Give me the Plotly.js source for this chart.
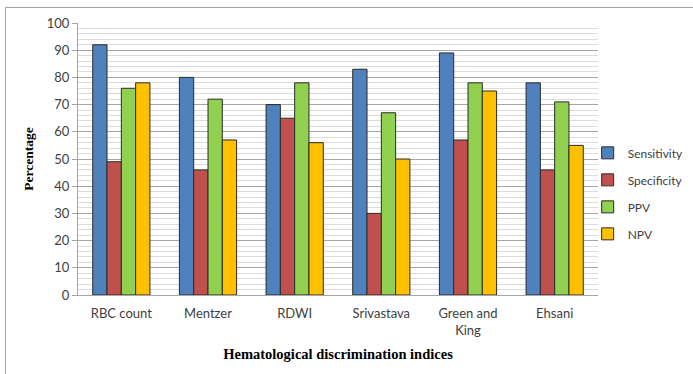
<!DOCTYPE html>
<html><head><meta charset="utf-8">
<script src="https://cdn.plot.ly/plotly-3.0.1.min.js"></script>
<style>
html,body{margin:0;padding:0;background:#fff;}
#wrap{position:relative;width:693px;height:374px;overflow:hidden;}
#chart{position:absolute;left:0;top:0;width:693px;height:374px;}
#frame{position:absolute;left:5px;top:7px;width:720px;height:400px;border-top:1px solid #a6a6a6;border-left:1px solid #a6a6a6;pointer-events:none;}
</style></head>
<body><div id="wrap"><div id="chart"></div><div id="frame"></div></div>
<script>
const categories = ["RBC count", "Mentzer", "RDWI", "Srivastava", "Green and<br>King", "Ehsani"];
const sensitivity = [92, 80, 70, 83, 89, 78];
const specificity = [49, 46, 65, 30, 57, 46];
const ppv = [76, 72, 78, 67, 78, 71];
const npv = [78, 57, 56, 50, 75, 55];
const seriesNames = ["Sensitivity", "Specificity", "PPV", "NPV"];
const yTicks = [0, 10, 20, 30, 40, 50, 60, 70, 80, 90, 100];

const colors = ["#4F81BD", "#C0504D", "#92D050", "#FFC000"];
const series = [sensitivity, specificity, ppv, npv];
const traces = series.map((vals, i) => ({
  type: "bar",
  name: seriesNames[i],
  legendgroup: "g" + i,
  x: categories,
  y: vals,
  marker: {color: colors[i], line: {color: "#2b2b2b", width: 1}},
  hoverinfo: "x+y+name"
}));

const tickFont = {family: "Lato, 'Open Sans', sans-serif", size: 13, color: "#404040"};
const layout = {
  width: 693, height: 374,
  margin: {l: 78, r: 95, t: 23, b: 79, autoexpand: false},
  paper_bgcolor: "rgba(0,0,0,0)",
  plot_bgcolor: "#fff",
  barmode: "group",
  bargap: 0.34,
  bargroupgap: 0,
  showlegend: true,
  legend: {
    xref: "container", yref: "container",
    x: 0.848, y: 0.483, xanchor: "left", yanchor: "middle",
    font: {family: "Lato, 'Open Sans', sans-serif", size: 12, color: "#404040"},
    traceorder: "grouped",
    tracegroupgap: 8, itemwidth: 30,
    bgcolor: "rgba(0,0,0,0)"
  },
  xaxis: {
    type: "category",
    showgrid: false,
    showline: true, linecolor: "#a6a6a6", linewidth: 1,
    ticks: "", tickfont: tickFont, ticklabelstandoff: 6,
    title: {text: "Hematological discrimination indices", font: {family: "'Liberation Serif', 'Times New Roman', serif", size: 14.5, color: "#000", weight: "bold"}, standoff: 12}
  },
  yaxis: {
    range: [0, 100],
    tickvals: yTicks,
    ticktext: yTicks.map(String),
    ticks: "outside", ticklen: 5, tickcolor: "#a6a6a6",
    tickfont: tickFont,
    showline: true, linecolor: "#a6a6a6", linewidth: 1,
    showgrid: true, gridcolor: "#a6a6a6", gridwidth: 1,
    zeroline: false,
    minor: {dtick: 2, showgrid: true, gridcolor: "#dcdcdc", gridwidth: 1},
    title: {text: "Percentage", font: {family: "'Liberation Serif', 'Times New Roman', serif", size: 13.5, color: "#000", weight: "bold"}, standoff: 10}
  }
};
Plotly.newPlot("chart", traces, layout, {displayModeBar: false, staticPlot: true});
</script></body></html>
